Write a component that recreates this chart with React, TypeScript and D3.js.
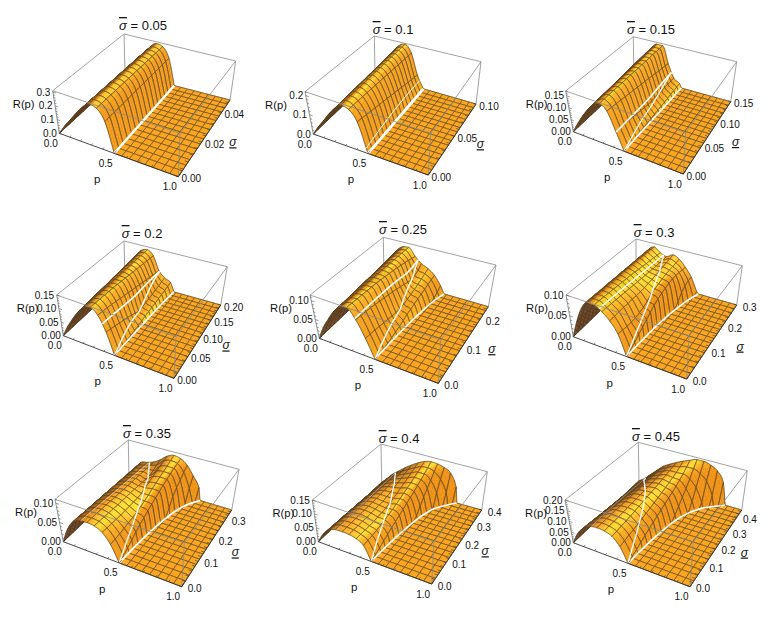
import React, { useEffect, useRef } from 'react';
import * as d3 from 'd3';

// every panel is one table of R(p) in thousandths: one row per sigma mesh line,
// each row holds the values at p = 0, 1/16, 2/16 ... up to the edge of the support
const titles = ['0.05', '0.1', '0.15', '0.2', '0.25', '0.3', '0.35', '0.4', '0.45'];
const sigmaMax = [0.05, 0.1, 0.15, 0.2, 0.25, 0.3, 0.35, 0.4, 0.45];
const zMax = [0.31, 0.22, 0.17, 0.15, 0.115, 0.1, 0.11, 0.15, 0.2];
const zTicks = [
  ['0.0', '0.1', '0.2', '0.3'], ['0.0', '0.1', '0.2'], ['0.00', '0.05', '0.10', '0.15'],
  ['0.00', '0.05', '0.10', '0.15'], ['0.00', '0.05', '0.10'], ['0.00', '0.05', '0.10'],
  ['0.00', '0.05', '0.10'], ['0.00', '0.05', '0.10', '0.15'], ['0.00', '0.05', '0.10', '0.15', '0.20'],
];
const sigmaTicks = [
  ['0.00', '0.02', '0.04'], ['0.00', '0.05', '0.10'], ['0.00', '0.05', '0.10', '0.15'],
  ['0.00', '0.05', '0.10', '0.15', '0.20'], ['0.0', '0.1', '0.2'], ['0.0', '0.1', '0.2', '0.3'],
  ['0.0', '0.1', '0.2', '0.3'], ['0.0', '0.1', '0.2', '0.3', '0.4'], ['0.0', '0.1', '0.2', '0.3', '0.4'],
];
const pTicks = ['0.0', '0.5', '1.0'];

const rows05 = [
  [0, 68, 130, 195, 254, 300, 288, 210], [0, 68, 130, 195, 254, 300, 288, 210],
  [0, 68, 130, 195, 254, 300, 288, 209], [0, 68, 130, 195, 253, 299, 287, 209],
  [0, 67, 130, 194, 253, 299, 287, 209], [0, 67, 129, 194, 253, 299, 287, 208],
  [0, 67, 129, 194, 252, 298, 286, 208], [0, 67, 129, 194, 252, 298, 286, 208],
  [0, 67, 129, 193, 252, 298, 286, 207], [0, 67, 129, 193, 252, 298, 286, 207],
  [0, 67, 129, 193, 251, 297, 285, 207], [0, 67, 129, 193, 251, 297, 285, 206],
  [0, 66, 128, 193, 251, 297, 285, 206], [0, 66, 128, 192, 251, 297, 285, 206],
  [0, 66, 128, 192, 250, 296, 284, 205], [0, 66, 128, 192, 250, 296, 284, 205],
  [0, 66, 128, 192, 250, 296, 284, 205],
];
const rows10 = [
  [0, 48, 92, 139, 180, 211, 202, 150], [0, 48, 92, 139, 181, 211, 200, 145],
  [0, 48, 93, 140, 182, 212, 199, 139], [0, 48, 93, 140, 183, 212, 197, 134],
  [0, 48, 93, 140, 184, 212, 195, 129], [0, 49, 93, 141, 185, 212, 194, 123],
  [0, 49, 94, 141, 186, 213, 192, 118], [0, 49, 94, 142, 187, 213, 190, 113],
  [0, 49, 94, 142, 189, 213, 189, 107], [0, 49, 94, 142, 190, 213, 187, 102],
  [0, 49, 95, 143, 191, 214, 185, 97], [0, 49, 95, 143, 192, 214, 184, 91],
  [0, 50, 95, 144, 193, 214, 182, 86], [0, 50, 95, 144, 194, 214, 180, 81],
  [0, 50, 96, 144, 195, 215, 179, 75], [0, 50, 96, 145, 197, 215, 177, 70],
  [0, 50, 96, 145, 198, 215, 176, 65],
];
const rows15 = [
  [0, 42, 82, 119, 150, 165, 145, 72], [0, 43, 83, 120, 151, 165, 142, 68],
  [0, 43, 84, 121, 152, 165, 138, 64], [0, 44, 85, 122, 152, 165, 135, 60],
  [0, 44, 86, 123, 153, 164, 131, 56, 3], [0, 45, 87, 124, 154, 164, 128, 52, 4],
  [0, 45, 88, 125, 155, 164, 125, 48, 6], [0, 46, 89, 126, 155, 164, 121, 44, 7],
  [0, 46, 90, 127, 156, 164, 118, 40, 8], [0, 47, 92, 129, 157, 163, 114, 39, 9],
  [0, 47, 93, 130, 158, 163, 111, 38, 10], [0, 48, 94, 131, 158, 163, 107, 37, 11],
  [0, 49, 95, 132, 159, 163, 104, 36, 12], [0, 49, 96, 133, 160, 163, 100, 36, 14],
  [0, 50, 97, 134, 161, 162, 97, 35, 15], [0, 50, 98, 135, 161, 162, 93, 35, 16],
  [0, 51, 99, 136, 162, 162, 90, 34, 17],
];
const rows20 = [
  [0, 42, 78, 112, 138, 147, 128, 75], [0, 43, 79, 113, 138, 146, 125, 70],
  [0, 43, 81, 114, 138, 145, 122, 64], [0, 44, 82, 115, 138, 144, 118, 58, 2],
  [0, 45, 83, 116, 138, 143, 114, 52, 4], [0, 45, 85, 117, 138, 142, 110, 46, 6],
  [0, 46, 86, 118, 138, 140, 106, 40, 8], [0, 47, 87, 119, 138, 138, 102, 32, 11],
  [0, 47, 88, 121, 138, 136, 98, 24, 14], [0, 48, 90, 122, 138, 134, 94, 26, 16],
  [0, 48, 91, 123, 138, 132, 90, 28, 18], [0, 49, 92, 124, 138, 130, 86, 30, 20],
  [0, 50, 94, 125, 138, 128, 82, 33, 23], [0, 50, 95, 126, 138, 126, 78, 36, 25],
  [0, 51, 96, 127, 138, 124, 74, 39, 27], [0, 51, 98, 129, 138, 122, 71, 42, 30],
  [0, 52, 99, 130, 138, 120, 68, 45, 33],
];
const rows25 = [
  [0, 35, 63, 90, 108, 115, 90, 48], [0, 36, 64, 91, 108, 114, 88, 46],
  [0, 36, 65, 91, 108, 113, 86, 44, 1], [0, 37, 67, 92, 108, 112, 84, 41, 3],
  [0, 38, 68, 93, 108, 111, 81, 38, 5], [0, 38, 69, 93, 108, 110, 78, 36, 8],
  [0, 39, 70, 94, 108, 109, 75, 33, 11], [0, 40, 72, 95, 108, 107, 72, 31, 15],
  [0, 40, 73, 95, 107, 105, 69, 29, 20], [0, 41, 74, 96, 107, 103, 66, 31, 23],
  [0, 42, 75, 97, 107, 101, 62, 33, 26], [0, 42, 77, 97, 106, 99, 58, 36, 29],
  [0, 43, 78, 98, 106, 96, 54, 39, 32], [0, 44, 79, 99, 106, 93, 50, 43, 35],
  [0, 44, 80, 99, 105, 90, 52, 48, 38, 6], [0, 45, 82, 100, 105, 86, 58, 53, 41, 12],
  [0, 46, 83, 101, 104, 83, 67, 58, 44, 20],
];
const rows30 = [
  [0, 42, 78, 98, 98, 88, 72, 47], [0, 42, 78, 98, 98, 87, 72, 45, 5],
  [0, 42, 78, 98, 97, 86, 72, 43, 10], [0, 42, 78, 97, 96, 85, 72, 42, 18],
  [0, 42, 78, 97, 95, 84, 71, 42, 25], [0, 42, 78, 97, 94, 83, 71, 44, 32],
  [0, 42, 78, 96, 93, 82, 70, 47, 40], [0, 42, 78, 96, 92, 81, 70, 52, 47],
  [0, 42, 78, 96, 91, 80, 70, 60, 53], [0, 42, 78, 95, 90, 79, 71, 63, 57],
  [0, 42, 78, 95, 88, 78, 72, 66, 60], [0, 42, 78, 94, 87, 77, 74, 69, 63],
  [0, 42, 78, 94, 85, 76, 75, 72, 65, 12], [0, 42, 78, 93, 84, 75, 77, 73, 64, 25],
  [0, 42, 78, 93, 83, 75, 79, 74, 63, 33], [0, 42, 78, 92, 81, 74, 81, 75, 61, 37],
  [0, 42, 78, 91, 80, 74, 83, 76, 59, 38, 5],
];
const rows35 = [
  [0, 38, 64, 74, 76, 74, 64, 40], [0, 38, 64, 73, 75, 73, 63, 41, 5],
  [0, 38, 63, 73, 75, 72, 62, 42, 12], [0, 37, 63, 72, 74, 71, 61, 44, 20],
  [0, 37, 62, 71, 74, 70, 60, 46, 28], [0, 37, 62, 71, 73, 69, 60, 48, 36],
  [0, 36, 61, 70, 72, 69, 60, 50, 42], [0, 36, 61, 69, 72, 68, 60, 54, 49],
  [0, 36, 60, 68, 71, 68, 60, 58, 55], [0, 35, 60, 68, 71, 67, 62, 63, 61],
  [0, 35, 59, 67, 70, 66, 66, 69, 67], [0, 35, 59, 66, 70, 65, 71, 74, 73, 18],
  [0, 34, 58, 65, 69, 64, 76, 80, 79, 38], [0, 34, 58, 64, 69, 64, 81, 85, 84, 52],
  [0, 34, 58, 64, 68, 68, 85, 90, 89, 62, 5], [0, 33, 57, 63, 68, 74, 90, 96, 93, 74, 35],
  [0, 33, 57, 62, 68, 79, 94, 101, 97, 84, 60, 33],
];
const rows40 = [
  [0, 36, 58, 69, 70, 69, 63, 48], [0, 35, 57, 69, 70, 69, 62, 49, 6],
  [0, 34, 57, 68, 70, 68, 61, 50, 14], [0, 33, 56, 68, 70, 68, 60, 52, 22],
  [0, 33, 55, 67, 70, 67, 60, 55, 30], [0, 32, 54, 67, 70, 67, 61, 58, 38],
  [0, 31, 54, 66, 70, 67, 62, 62, 45], [0, 30, 53, 66, 70, 67, 64, 66, 52],
  [0, 29, 52, 65, 70, 67, 66, 71, 59], [0, 28, 51, 65, 71, 70, 71, 77, 67],
  [0, 27, 50, 64, 72, 73, 76, 83, 75, 12], [0, 26, 49, 64, 73, 77, 82, 89, 83, 35],
  [0, 25, 48, 64, 74, 81, 88, 96, 92, 55], [0, 24, 47, 64, 76, 85, 94, 103, 101, 75],
  [0, 23, 46, 63, 78, 89, 100, 110, 110, 92, 50], [0, 22, 46, 63, 80, 94, 107, 118, 121, 113, 90, 45],
  [0, 21, 45, 63, 82, 99, 114, 126, 132, 130, 123, 108, 60],
];
const rows45 = [
  [0, 55, 90, 110, 116, 113, 100, 64], [0, 53, 88, 108, 116, 113, 101, 68, 8],
  [0, 51, 85, 106, 115, 113, 103, 72, 18], [0, 49, 83, 104, 115, 114, 105, 76, 28],
  [0, 47, 80, 102, 115, 115, 107, 80, 38], [0, 45, 78, 100, 114, 116, 110, 85, 48],
  [0, 43, 75, 98, 114, 117, 113, 90, 58], [0, 41, 73, 96, 114, 118, 116, 95, 67],
  [0, 39, 70, 94, 113, 119, 119, 100, 76], [0, 37, 68, 92, 113, 120, 122, 106, 85],
  [0, 34, 65, 90, 113, 121, 125, 112, 95, 20], [0, 32, 63, 88, 112, 122, 128, 118, 105, 45],
  [0, 30, 60, 86, 112, 124, 132, 125, 116, 70], [0, 27, 58, 85, 111, 125, 136, 132, 128, 95, 40],
  [0, 25, 55, 83, 111, 127, 140, 140, 142, 125, 90, 25], [0, 22, 53, 81, 110, 128, 144, 152, 160, 160, 145, 115, 50],
  [0, 20, 50, 80, 110, 130, 148, 164, 178, 190, 190, 180, 160, 110],
];
const surfaces = [rows05, rows10, rows15, rows20, rows25, rows30, rows35, rows40, rows45];

// where R(p) reaches zero on each sigma mesh line (the white line on the floor)
const supportEdge = [
  [.5, .5, .5, .5, .5, .5, .5, .5, .5, .5, .5, .5, .5, .5, .5, .5, .5],
  [.5, .5, .5, .5, .5, .5, .5, .5, .5, .5, .5, .5, .5, .5, .5, .5, .5],
  [.5, .5, .5, .5, .502, .504, .506, .507, .508, .51, .511, .512, .514, .515, .516, .518, .52],
  [.5, .5, .5, .502, .504, .506, .508, .51, .513, .515, .518, .52, .523, .526, .53, .535, .54],
  [.5, .5, .502, .505, .508, .512, .516, .52, .525, .53, .536, .543, .55, .558, .568, .584, .6],
  [.5, .502, .505, .508, .512, .516, .52, .527, .534, .541, .55, .56, .572, .585, .6, .62, .64],
  [.5, .503, .506, .51, .515, .52, .526, .533, .54, .55, .56, .572, .587, .605, .63, .665, .71],
  [.5, .503, .507, .512, .517, .523, .53, .537, .545, .555, .567, .58, .598, .62, .66, .71, .77],
  [.5, .503, .507, .512, .518, .524, .532, .54, .55, .562, .577, .595, .62, .655, .7, .77, .85],
];

// the two crease lines on the surface, as [p, sigma / sigma bar]
const creaseA: number[][][] = [
  [], [],
  [[.44, 0], [.41, 1]],
  [[.41, 0], [.38, 1]],
  [[.37, 0], [.34, 1]],
  [[.29, 0], [.28, 1]],
  [[.2, 0], [.21, 1]],
  [[.2, 0], [.15, 1]],
  [[.2, 0], [.09, .97]],
];
const creaseB: number[][][] = [
  [],
  [[.49, 0], [.46, 1]],
  [[.5, 0], [.455, .5], [.41, 1]],
  [[.5, 0], [.44, .5], [.41, .75], [.38, 1]],
  [[.5, 0], [.47, .25], [.44, .5], [.39, .75], [.34, 1]],
  [[.5, 0], [.48, .25], [.44, .5], [.38, .75], [.28, 1]],
  [[.5, 0], [.47, .25], [.41, .5], [.33, .75], [.21, 1]],
  [[.5, 0], [.45, .25], [.38, .5], [.28, .75], [.15, 1]],
  [[.5, 0], [.46, .2], [.4, .4], [.33, .55], [.22, .72], [.14, .85], [.09, .97]],
];

// layout: the eight box corners of every panel in page pixels
type Pt = [number, number];
const boxFloor: Pt[][] = [
  [[59.3, 133.3], [178.3, 176.7], [230, 100], [125, 73]],
  [[313.3, 134], [428.3, 175], [476, 104], [375, 75]],
  [[573.3, 131.7], [683.3, 174], [730.7, 101.7], [634, 75]],
  [[63.3, 335.7], [174, 378.3], [220.7, 305], [125, 278.3]],
  [[319.3, 338.3], [438.3, 383.3], [488.3, 306.7], [384, 276.7]],
  [[573.3, 336.7], [686.7, 379], [736.7, 305], [636, 276.3]],
  [[63.3, 541.7], [181.7, 586.7], [231.7, 510], [129, 479.3]],
  [[318.3, 541.7], [431.7, 584], [481.7, 510], [381.7, 482.3]],
  [[573.3, 542.7], [690, 586.7], [741.7, 510], [639, 480.7]],
];
const boxTop: Pt[][] = [
  [[52.7, 90.7], [180, 133.3], [235.7, 61], [124, 34]],
  [[305, 91.7], [430.7, 133.3], [481, 61.7], [374.3, 36]],
  [[565.7, 91], [685.7, 132.7], [736.7, 61.7], [633.3, 36.7]],
  [[56.7, 295], [176, 336.7], [227.3, 266.7], [124, 241]],
  [[310, 295], [440.7, 340], [496, 265], [383.3, 237.3]],
  [[566, 295], [689, 335.7], [742.3, 265.7], [636, 239]],
  [[55, 499.3], [184.3, 542.7], [239, 469.3], [128.3, 440]],
  [[312.3, 500], [434, 541.7], [487.3, 471.7], [381, 444]],
  [[565, 500], [693.3, 541.7], [747.3, 470.7], [638.3, 442.3]],
];
const titlePos: Pt[] = [[143, 30], [393, 34], [651, 34], [142, 238], [403, 234], [654, 237], [147, 438], [399, 443], [656, 441]];
const creaseWidth = [
  [0, 0, 2.4], [0, 1, 2.8], [1.6, 1.2, 1.6], [1.6, 1.4, 1.6], [1.6, 1.4, 1.5],
  [1.3, 1.4, 1.6], [.7, 1.3, 1.8], [.5, 1.3, 1.6], [.5, 1.3, 1.6],
];

const FONT = '"Liberation Sans", Arial, sans-serif';
const SUB = 3;

const shade = d3.scaleLinear<string>()
  .domain([-1, -.75, -.45, -.15, 0, .2, .45, .72, 1])
  .range(['#59351a', '#7a4c1a', '#b06c1c', '#ec981c', '#fba61f', '#ffc427', '#ffe02d', '#fbb01d', '#ee9012'])
  .clamp(true);

// maps the unit square onto a four sided figure
function quadMap(q: Pt[]) {
  const [[x0, y0], [x1, y1], [x2, y2], [x3, y3]] = q;
  const dx1 = x1 - x2, dx2 = x3 - x2, sx = x0 - x1 + x2 - x3;
  const dy1 = y1 - y2, dy2 = y3 - y2, sy = y0 - y1 + y2 - y3;
  const den = dx1 * dy2 - dx2 * dy1;
  const g = (sx * dy2 - dx2 * sy) / den;
  const h = (dx1 * sy - sx * dy1) / den;
  const a = x1 - x0 + g * x1, b = x3 - x0 + h * x3;
  const d = y1 - y0 + g * y1, e = y3 - y0 + h * y3;
  return (u: number, v: number): Pt => {
    const w = g * u + h * v + 1;
    return [(a * u + b * v + x0) / w, (d * u + e * v + y0) / w];
  };
}

// the nodes of one table row with a slope at each, so the arch is drawn round
function rowNodes(row: number[], e: number) {
  const xs: number[] = [], ys: number[] = [];
  for (let k = 0; k / 16 < e - 1e-9; k++) {
    xs.push(k / 16);
    ys.push(row[k] ?? 0);
  }
  xs.push(e);
  ys.push(0);
  const ms = xs.map((_, n) => {
    if (n === 0) return (ys[1] - ys[0]) / (xs[1] - xs[0]);
    const left = (ys[n] - ys[n - 1]) / (xs[n] - xs[n - 1]);
    if (n === xs.length - 1) return left;
    const right = (ys[n + 1] - ys[n]) / (xs[n + 1] - xs[n]);
    if (left * right <= 0) return 0;
    const m = (ys[n + 1] - ys[n - 1]) / (xs[n + 1] - xs[n - 1]);
    return Math.sign(m) * Math.min(Math.abs(m), 3 * Math.abs(left), 3 * Math.abs(right));
  });
  return { xs, ys, ms };
}

function drawPanel(svg: d3.Selection<SVGSVGElement, unknown, null, undefined>, i: number) {
  const edge = supportEdge[i];
  const sMax = sigmaMax[i];
  const zTop = zMax[i];
  const nodes = surfaces[i].map((row, j) => rowNodes(row, edge[j]));
  const g = svg.append('g');

  const pScale = d3.scaleLinear().domain([0, 1]).range([0, 1]);
  const sScale = d3.scaleLinear().domain([0, sMax]).range([0, 1]);
  const zScale = d3.scaleLinear().domain([0, zTop]).range([0, 1]);
  const floorAt = quadMap(boxFloor[i]);
  const topAt = quadMap(boxTop[i]);

  const project = (p: number, s: number, z: number): Pt => {
    const u = pScale(p), v = sScale(s), w = zScale(z);
    const f = floorAt(u, v), t = topAt(u, v);
    return [f[0] + (t[0] - f[0]) * w, f[1] + (t[1] - f[1]) * w];
  };

  const rowValue = (j: number, p: number) => {
    const { xs, ys, ms } = nodes[j];
    if (p >= xs[xs.length - 1]) return 0;
    const k = Math.min(Math.floor(p * 16 + 1e-9), xs.length - 2);
    const h = xs[k + 1] - xs[k];
    const t = (p - xs[k]) / h;
    const t2 = t * t, t3 = t2 * t;
    const v = (2 * t3 - 3 * t2 + 1) * ys[k] + (t3 - 2 * t2 + t) * h * ms[k]
      + (-2 * t3 + 3 * t2) * ys[k + 1] + (t3 - t2) * h * ms[k + 1];
    return Math.max(v, 0);
  };
  const surface = (p: number, s: number) => {
    const f = Math.min(Math.max(s / sMax, 0), 1) * 16;
    const j = Math.min(Math.floor(f + 1e-9), 15);
    const t = f - j;
    return (rowValue(j, p) * (1 - t) + rowValue(j + 1, p) * t) / 1000;
  };

  const colourAt = (p: number, s: number) => {
    if (surface(p, s) <= 0) return 0;
    const hp = 1 / 16, hs = sMax / 16;
    const p0 = Math.max(p - hp, 0), p1 = Math.min(p + hp, 1);
    const s0 = Math.max(s - hs, 0), s1 = Math.min(s + hs, sMax);
    const dp = (zScale(surface(p1, s)) - zScale(surface(p0, s))) / (p1 - p0);
    const ds = (zScale(surface(p, s1)) - zScale(surface(p, s0))) / ((s1 - s0) / sMax);
    const nx = -dp * .4, ny = -ds * .4;
    const len = Math.hypot(nx, ny, 1);
    return nx / len - .75 * ny / len;
  };

  const poly = (pts: Pt[]) => 'M' + pts.map(q => q[0].toFixed(2) + ',' + q[1].toFixed(2)).join('L') + 'Z';
  const edgeLine = (a: Pt, b: Pt, colour: string, w: number) => g.append('line')
    .attr('x1', a[0]).attr('y1', a[1]).attr('x2', b[0]).attr('y2', b[1])
    .attr('stroke', colour).attr('stroke-width', w);

  const [O, A, B, C] = boxFloor[i];
  const [T0, T1, T2, T3] = boxTop[i];
  const GREY = '#8a8a8a';
  edgeLine(T0, T3, GREY, .8);
  edgeLine(T3, T2, GREY, .8);
  edgeLine(T3, C, GREY, .8);
  edgeLine(C, O, GREY, .8);
  edgeLine(C, B, GREY, .8);

  // far corner first, near corner last, so the nearer cells cover the farther ones
  for (let a = 0; a < 16; a++) {
    const pA = a / 16, pB = (a + 1) / 16;
    for (let b = 15; b >= 0; b--) {
      const sA = b / 16 * sMax, sB = (b + 1) / 16 * sMax;
      const flat = edge[b] <= pA && edge[b + 1] <= pA;
      const n = flat ? 1 : SUB;
      for (let u = 0; u < n; u++) {
        for (let v = n - 1; v >= 0; v--) {
          const p0 = pA + (pB - pA) * u / n, p1 = pA + (pB - pA) * (u + 1) / n;
          const s0 = sA + (sB - sA) * v / n, s1 = sA + (sB - sA) * (v + 1) / n;
          const colour = shade(colourAt((p0 + p1) / 2, (s0 + s1) / 2));
          g.append('path')
            .attr('d', poly([
              project(p0, s0, surface(p0, s0)), project(p1, s0, surface(p1, s0)),
              project(p1, s1, surface(p1, s1)), project(p0, s1, surface(p0, s1)),
            ]))
            .attr('fill', colour).attr('stroke', colour).attr('stroke-width', .35);
        }
      }
      // mesh lines round the cell, sampled finely so they follow the support edge
      const steps = d3.range(7).map(t => t / 6);
      const ring: Pt[] = [
        ...steps.map(t => project(pA + (pB - pA) * t, sA, surface(pA + (pB - pA) * t, sA))),
        ...steps.map(t => project(pB, sA + (sB - sA) * t, surface(pB, sA + (sB - sA) * t))),
        ...steps.map(t => project(pB - (pB - pA) * t, sB, surface(pB - (pB - pA) * t, sB))),
        ...steps.map(t => project(pA, sB - (sB - sA) * t, surface(pA, sB - (sB - sA) * t))),
      ];
      g.append('path').attr('d', poly(ring)).attr('fill', 'none')
        .attr('stroke', '#4d3d28').attr('stroke-width', .65);
    }
  }

  // white creases
  const curve = d3.line<Pt>().x(d => d[0]).y(d => d[1]).curve(d3.curveBasis);
  const creasePath = (pts: number[][], w: number, opacity = 1) => {
    if (!pts.length || !w) return;
    const samples: Pt[] = [];
    pts.slice(1).forEach((pt, n) => {
      const from = pts[n];
      d3.range(10).forEach(t => {
        const pp = from[0] + (pt[0] - from[0]) * t / 10;
        const ss = (from[1] + (pt[1] - from[1]) * t / 10) * sMax;
        samples.push(project(pp, ss, surface(pp, ss)));
      });
    });
    const last = pts[pts.length - 1];
    samples.push(project(last[0], last[1] * sMax, surface(last[0], last[1] * sMax)));
    g.append('path').attr('d', curve(samples)).attr('fill', 'none')
      .attr('stroke', '#fff').attr('stroke-width', w).attr('stroke-opacity', opacity);
  };
  const [wA, wB, wC] = creaseWidth[i];
  creasePath(creaseA[i], wA, wA < 1 ? .7 : 1);
  creasePath(creaseB[i], wB);
  g.append('path')
    .attr('d', d3.line<Pt>().x(d => d[0]).y(d => d[1]).curve(d3.curveCatmullRom)(edge.map((e, j) => project(e, j / 16 * sMax, 0))))
    .attr('fill', 'none').attr('stroke', '#fff').attr('stroke-width', wC);

  // front box edges and axes
  edgeLine(T0, T1, GREY, .8);
  edgeLine(T1, T2, GREY, .8);
  edgeLine(T1, A, GREY, .8);
  edgeLine(B, T2, GREY, .8);
  edgeLine(O, A, '#333', .9);
  edgeLine(A, B, '#333', .9);
  edgeLine(O, T0, '#777', .8);

  const text = (x: number, y: number, s: string, size: number, anchor = 'middle') => g.append('text')
    .attr('x', x).attr('y', y).attr('font-family', FONT).attr('font-size', size)
    .attr('text-anchor', anchor).attr('fill', '#111').text(s);

  // p axis
  d3.range(11).forEach(k => {
    const v = k / 10, len = k % 5 === 0 ? .035 : .02;
    edgeLine(project(v, 0, 0), project(v, len * sMax, 0), '#333', .6);
  });
  pTicks.forEach(lab => {
    const q = project(+lab, 0, 0);
    text(q[0] - 8.5, q[1] + 13.5, lab, 10);
  });
  const mid = project(.5, 0, 0);
  text(mid[0] - 17, mid[1] + 30, 'p', 11.5);

  // sigma axis
  const sValues = sigmaTicks[i].map(Number);
  const sStep = (sValues[1] - sValues[0]) / 5;
  d3.range(0, sMax + 1e-6, sStep).forEach(v => {
    edgeLine(project(1, v, 0), project(.975, v, 0), '#333', .6);
  });
  sigmaTicks[i].forEach((lab, n) => {
    const q = project(1, sValues[n], 0);
    text(q[0] + 13, q[1] + 5.5, lab, 10);
  });
  const sMid = project(1, sMax / 2, 0);
  const sTitle = text(sMid[0] + 26, sMid[1] + 12, '', 12);
  sTitle.append('tspan').attr('font-style', 'italic').style('text-decoration', 'underline').text('σ');

  // R(p) axis
  const zValues = zTicks[i].map(Number);
  const zStep = (zValues[1] - zValues[0]) / 5;
  d3.range(0, zTop + 1e-6, zStep).forEach((v, n) => {
    edgeLine(project(0, 0, v), project(n % 5 === 0 ? .03 : .017, 0, v), '#555', .6);
  });
  zTicks[i].forEach((lab, n) => {
    const q = project(0, 0, zValues[n]);
    text(q[0] - 2.5, q[1] + 3.5, lab, 10, 'end');
  });
  text(T0[0] - 29, T0[1] + 17, 'R(p)', 11.2);

  // title
  const [tx, ty] = titlePos[i];
  const title = text(tx, ty, '', 13);
  title.append('tspan').attr('font-style', 'italic').style('text-decoration', 'overline').text('σ');
  title.append('tspan').text(' = ' + titles[i]);
}

const App: React.FC = () => {
  const svgRef = useRef<SVGSVGElement | null>(null);

  useEffect(() => {
    if (!svgRef.current) return;
    const svg = d3.select(svgRef.current);
    svg.selectAll('*').remove();
    titles.forEach((_, i) => drawPanel(svg, i));
  }, []);

  return (
    <svg ref={svgRef} width={767} height={619}
      style={{ position: 'absolute', left: 0, top: 0, background: '#fff' }} />
  );
};

export default App;
